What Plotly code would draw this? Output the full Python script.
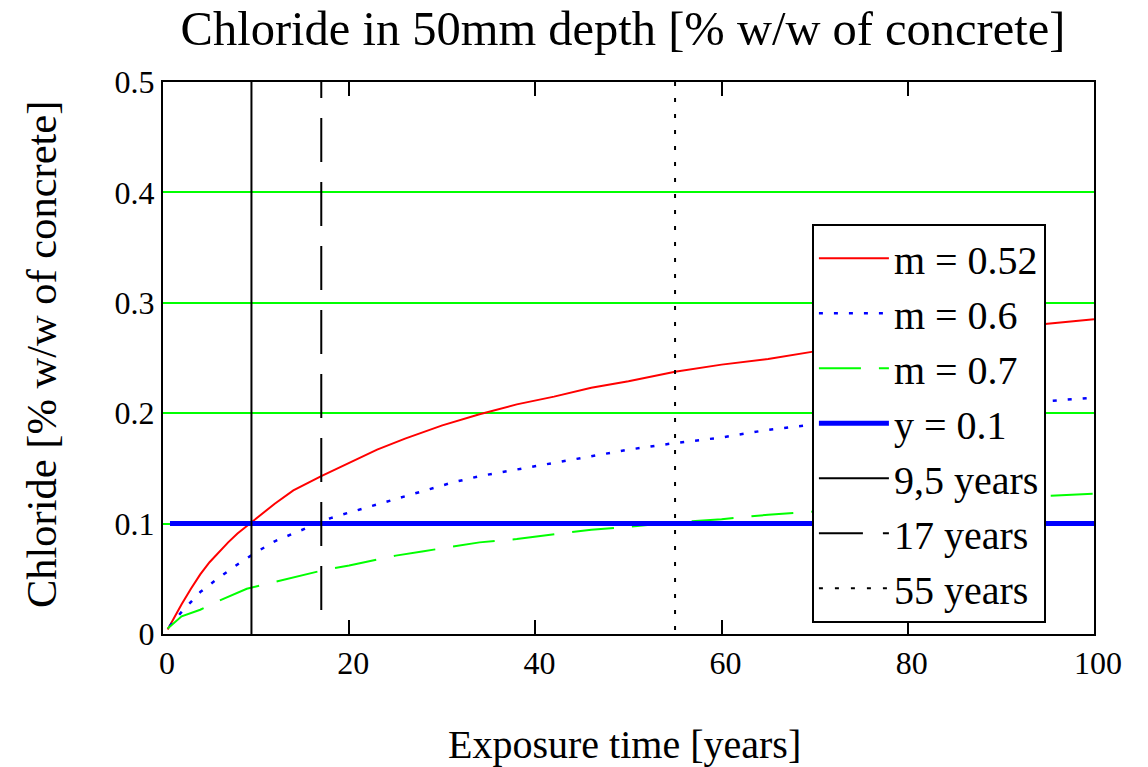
import plotly.graph_objects as go

# ---- data ----
t_m052 = [0.5, 1, 2, 3, 4, 5, 6, 7, 8, 9.5, 12, 14, 17, 20, 23, 26, 30, 34, 38, 42, 46, 50, 55, 60, 65, 70, 75, 80, 85, 90, 95, 100]
c_m052 = [0.004, 0.012, 0.027, 0.041, 0.054, 0.065, 0.074, 0.083, 0.091, 0.101, 0.118, 0.130, 0.143, 0.155, 0.167,
          0.177, 0.189, 0.199, 0.208, 0.215, 0.223, 0.229, 0.2376, 0.244, 0.249, 0.256, 0.261, 0.266, 0.271, 0.276,
          0.281, 0.285]

t_m06 = [0.7, 2, 4, 6, 8, 10, 12, 14, 16, 18, 20, 22, 25, 28, 31, 34, 38, 42, 46, 50, 55, 60, 65, 70, 75, 80, 85, 90, 95, 100]
c_m06 = [0.007, 0.020, 0.038, 0.051, 0.063, 0.074, 0.084, 0.091, 0.098, 0.105, 0.110, 0.115, 0.122, 0.130, 0.137,
         0.143, 0.149, 0.155, 0.1606, 0.167, 0.173, 0.178, 0.185, 0.190, 0.195, 0.1995, 0.204, 0.208, 0.211, 0.214]

t_m07 = [0.5, 2, 4, 6, 9, 11, 13, 15, 17.6, 20, 22.6, 25, 28, 31, 34, 38, 42, 46, 50, 55, 60, 65, 70, 75, 80, 85, 90, 95, 100]
c_m07 = [0.005, 0.016, 0.022, 0.030, 0.041, 0.045, 0.049, 0.053, 0.0586, 0.062, 0.067, 0.071, 0.075, 0.079, 0.083,
         0.086, 0.090, 0.0945, 0.097, 0.101, 0.104, 0.108, 0.111, 0.114, 0.117, 0.120, 0.123, 0.125, 0.127]

limit_t = [0.75, 100]
limit_y = [0.1, 0.1]

year_95 = 9.5
year_17 = 17
year_55 = 55

x_ticks = [0, 20, 40, 60, 80, 100]
y_ticks = [0, 0.1, 0.2, 0.3, 0.4, 0.5]
y_tick_text = ["0", "0.1", "0.2", "0.3", "0.4", "0.5"]

FONT = "Liberation Serif"

fig = go.Figure()
fig.add_trace(go.Scatter(x=t_m052, y=c_m052, mode="lines", name="m = 0.52",
                         line=dict(color="#ff0000", width=2)))
fig.add_trace(go.Scatter(x=t_m06, y=c_m06, mode="lines", name="m = 0.6",
                         line=dict(color="#0000ff", width=2.5, dash="4px,11px")))
fig.add_trace(go.Scatter(x=t_m07, y=c_m07, mode="lines", name="m = 0.7",
                         line=dict(color="#00ff00", width=2, dash="42px,18px")))
fig.add_trace(go.Scatter(x=limit_t, y=limit_y, mode="lines", name="y = 0.1",
                         line=dict(color="#0000ff", width=5)))
fig.add_trace(go.Scatter(x=[year_95, year_95], y=[0, 0.5], mode="lines", name="9,5 years",
                         line=dict(color="#000000", width=2)))
fig.add_trace(go.Scatter(x=[year_17, year_17], y=[0.5254, 0.02], mode="lines", name="17 years",
                         line=dict(color="#000000", width=2, dash="44px,20px")))
fig.add_trace(go.Scatter(x=[year_55, year_55], y=[0.5, 0], mode="lines", name="55 years",
                         line=dict(color="#000000", width=2, dash="4px,12px")))

fig.update_layout(
    width=1148, height=767,
    margin=dict(l=163, r=54, t=82, b=133),
    paper_bgcolor="white", plot_bgcolor="white",
    font=dict(family=FONT, color="black", size=32),
    title=dict(text="Chloride in 50mm depth [% w/w of concrete]", x=0.5427, xref="container",
               y=1 - 28 / 767, yref="container", xanchor="center", yanchor="middle",
               font=dict(family=FONT, size=48.5, color="black")),
    showlegend=True,
    legend=dict(x=0.697, y=0.743, xanchor="left", yanchor="top",
                bgcolor="white", bordercolor="black", borderwidth=2,
                font=dict(family=FONT, size=40, color="black"),
                itemwidth=70, traceorder="normal", entrywidth=175, entrywidthmode="pixels"),
    annotations=[
        dict(text="Exposure time [years]", x=0.4962, y=-0.201, xref="paper", yref="paper",
             xanchor="center", yanchor="middle", showarrow=False,
             font=dict(family=FONT, size=40, color="black")),
        dict(text="Chloride [% w/w of concrete]", x=-0.131, y=0.5054, xref="paper", yref="paper",
             xanchor="center", yanchor="middle", showarrow=False, textangle=-90,
             font=dict(family=FONT, size=42.5, color="black")),
    ],
)

fig.update_xaxes(range=[0, 100], tickvals=x_ticks, ticks="inside", ticklen=14, tickwidth=2,
                 tickcolor="black", showline=True, linecolor="black", linewidth=2, mirror="ticks",
                 showgrid=False, zeroline=False, ticklabelshift=4,
                 tickfont=dict(family=FONT, size=32, color="black"))
fig.update_yaxes(range=[0, 0.5], tickvals=y_ticks, ticktext=y_tick_text, ticks="",
                 showline=True, linecolor="black", linewidth=2, mirror=True,
                 showgrid=True, gridcolor="#00ff00", gridwidth=2, zeroline=False,
                 tickfont=dict(family=FONT, size=32, color="black"))

fig.write_html("out.html")
